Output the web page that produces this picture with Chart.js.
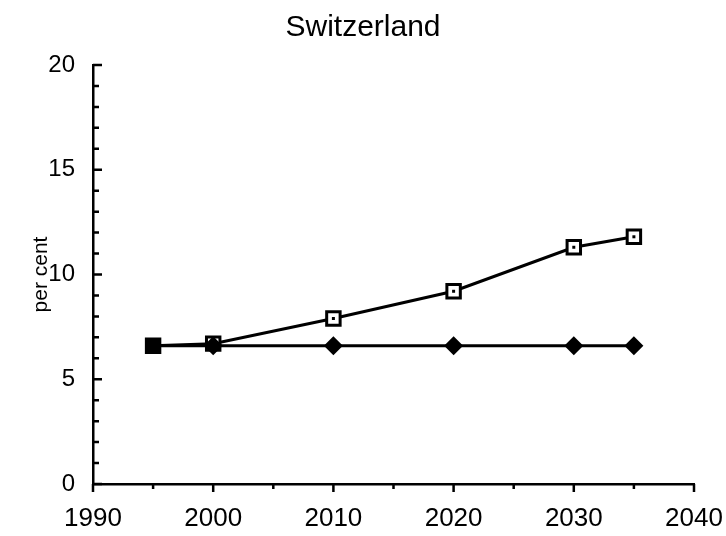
<!DOCTYPE html>
<html>
<head>
<meta charset="utf-8">
<script src="https://cdn.jsdelivr.net/npm/chart.js@4/dist/chart.umd.min.js"></script>
<style>
  html, body { margin: 0; padding: 0; background: #fff; }
  #wrap { width: 726px; height: 536px; }
</style>
</head>
<body>
<div id="wrap"><canvas id="chart"></canvas></div>
<script>
// values
const years = [1995, 2000, 2010, 2020, 2030, 2035];
const openSquares = [6.6, 6.7, 7.9, 9.2, 11.3, 11.8];
const filledDiamonds = [6.6, 6.6, 6.6, 6.6, 6.6, 6.6];
const yTicks = [0, 5, 10, 15, 20];
const xTicks = [1990, 2000, 2010, 2020, 2030, 2040];

const toPoints = (vals) => years.map((yr, i) => ({ x: yr, y: vals[i] }));

// axis ticks: y ticks point into the plot, x ticks hang below the axis
const axisTicks = {
  id: "axisTicks",
  afterDraw(chart) {
    const { ctx, scales } = chart;
    const xs = scales.x, ys = scales.y;
    ctx.save();
    ctx.strokeStyle = "#000";
    ctx.lineWidth = 2.5;
    ctx.beginPath();
    for (let v = 0; v <= 20; v++) {
      const py = ys.getPixelForValue(v);
      const len = v % 5 === 0 ? 9 : 6;
      ctx.moveTo(xs.left, py);
      ctx.lineTo(xs.left + len, py);
    }
    for (let v = 1990; v <= 2040; v += 5) {
      const px = xs.getPixelForValue(v);
      const len = v % 10 === 0 ? 8 : 5;
      ctx.moveTo(px, ys.bottom);
      ctx.lineTo(px, ys.bottom + len);
    }
    ctx.stroke();
    // the little dot inside each open square
    const meta = chart.getDatasetMeta(0);
    ctx.fillStyle = "#000";
    meta.data.forEach((pt, i) => {
      if (i > 0) ctx.fillRect(pt.x - 1.5, pt.y - 1.5, 3, 3);
    });
    ctx.restore();
  },
};

new Chart(document.getElementById("chart"), {
  type: "line",
  data: {
    datasets: [
      {
        label: "open",
        data: toPoints(openSquares),
        order: 2,
        borderColor: "#000",
        borderWidth: 3,
        pointStyle: "rect",
        pointRadius: 9.5,
        pointBorderWidth: 3,
        pointBackgroundColor: "#fff",
        pointBorderColor: "#000",
        tension: 0,
      },
      {
        label: "filled",
        data: toPoints(filledDiamonds),
        order: 1,
        borderColor: "#000",
        borderWidth: 3,
        pointStyle: ["rect", "rectRot", "rectRot", "rectRot", "rectRot", "rectRot"],
        pointRadius: [9.5, 9.5, 9.5, 9.5, 9.5, 9.5],
        pointBorderWidth: 0,
        pointBackgroundColor: "#000",
        tension: 0,
      },
    ],
  },
  options: {
    responsive: true,
    maintainAspectRatio: false,
    animation: false,
    layout: { padding: { left: 0, right: 0, top: 0, bottom: 0 } },
    plugins: {
      legend: { display: false },
      tooltip: { enabled: false },
      title: {
        display: true,
        text: "Switzerland",
        color: "#000",
        font: { family: "Liberation Sans", size: 30, weight: "normal" },
        padding: { top: 10, bottom: 19 },
      },
    },
    scales: {
      x: {
        type: "linear",
        min: 1990,
        max: 2040,
        afterBuildTicks: (s) => { s.ticks = xTicks.map((v) => ({ value: v })); },
        afterFit: (s) => {
          s.height = 52;
          s.paddingLeft = 0;
          s.paddingRight = 32;
        },
        grid: { display: false },
        border: { display: true, color: "#000", width: 2.5 },
        ticks: {
          color: "#000",
          padding: 11,
          maxRotation: 0,
          callback: (v) => String(v),
          font: { family: "Liberation Sans", size: 26 },
        },
      },
      y: {
        min: 0,
        max: 20,
        afterBuildTicks: (s) => { s.ticks = yTicks.map((v) => ({ value: v })); },
        afterFit: (s) => { s.width = 93; },
        grid: { display: false },
        border: { display: true, color: "#000", width: 2.5 },
        title: {
          display: true,
          text: "per cent",
          color: "#000",
          font: { family: "Liberation Sans", size: 21 },
          padding: { top: 29, bottom: 0 },
        },
        ticks: {
          color: "#000",
          padding: 10,
          font: { family: "Liberation Sans", size: 24 },
        },
      },
    },
  },
  plugins: [axisTicks],
});
</script>
</body>
</html>
